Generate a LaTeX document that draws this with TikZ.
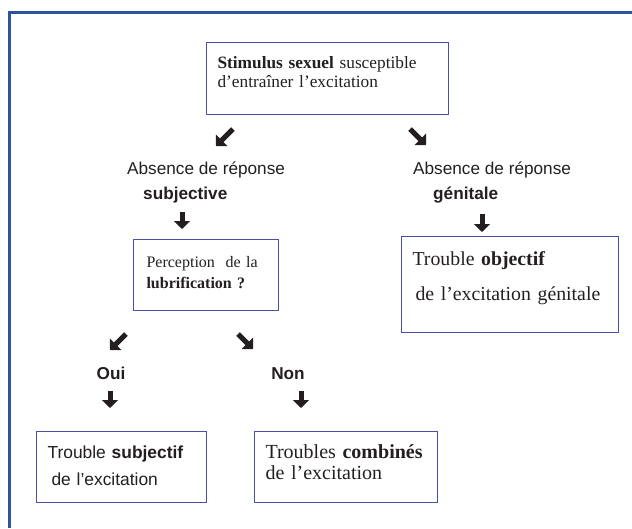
\documentclass[tikz,border=0pt]{standalone}
\usepackage{fontspec}
\setmainfont{Liberation Serif}
\setsansfont{Liberation Sans}
\usetikzlibrary{arrows.meta,positioning}
\definecolor{cframe}{HTML}{2C55A0}
\definecolor{cbox}{HTML}{4A4FA8}
\definecolor{cink}{HTML}{231F20}

\begin{document}
\begin{tikzpicture}[x=1pt,y=-1pt,
  box/.style={draw=cbox,line width=1.1pt,anchor=north west,align=left,inner ysep=0pt,inner xsep=11pt,text=cink},
  lbl/.style={font=\sffamily\fontsize{17.2}{20}\selectfont,text=cink,inner sep=0pt},
  arr/.style={-{Triangle[length=8pt,width=16pt]},line width=5pt,draw=cink}]
  \useasboundingbox (0,0) rectangle (632,528);
  \draw[cframe,line width=3pt] (632,12) -- (9,12) -- (9,528);
  \node[box,text width=220pt,text height=26pt,text depth=46pt,font=\fontsize{17.3}{18.5}\selectfont] (stim) at (206,42)
      {\textbf{Stimulus sexuel} susceptible\\d’entraîner l’excitation};
  \node[box,inner xsep=13pt,text width=119pt,text height=28pt,text depth=43pt,font=\fontsize{16}{21}\selectfont] (perc) at (133,239)
      {Perception~ de la\\\textbf{lubrification ?}};
  \node[box,text width=195pt,text height=29pt,text depth=67pt,font=\fontsize{19.8}{35}\selectfont] (obj) at (401,236)
      {Trouble \textbf{objectif}\\\hspace{3pt}de l’excitation génitale};
  \node[box,text width=148pt,text height=27pt,text depth=44pt,font=\sffamily\fontsize{17.4}{27}\selectfont] (subj) at (36,431)
      {Trouble \textbf{subjectif}\\\hspace{4pt}de l’excitation};
  \node[box,text width=161pt,text height=27pt,text depth=44pt,font=\fontsize{20}{21}\selectfont] (comb) at (254,431)
      {Troubles \textbf{combinés}\\de l’excitation};
  \node[lbl,anchor=base west] (absL) at (127,174) {Absence de réponse};
  \node[lbl,anchor=base west] (subjL) at (143,199) {\textbf{subjective}};
  \node[lbl,anchor=base west] (absR) at (413,174) {Absence de réponse};
  \node[lbl,anchor=base west] (genR) at (433,199) {\textbf{génitale}};
  \node[lbl,anchor=base] (oui) at (111,379) {\textbf{Oui}};
  \node[lbl,anchor=base] (non) at (288,379) {\textbf{Non}};
  \coordinate (l1) at (233,129); \coordinate (l2) at (216,146);
  \coordinate (r1) at (410,129); \coordinate (r2) at (426,145);
  \coordinate (d1) at (182,212); \coordinate (d2) at (182,229);
  \coordinate (e1) at (482,214); \coordinate (e2) at (482,232);
  \coordinate (o1) at (126,334); \coordinate (o2) at (110,350);
  \coordinate (n1) at (238,334); \coordinate (n2) at (253,349);
  \coordinate (p1) at (110,391); \coordinate (p2) at (110,408);
  \coordinate (q1) at (301,391); \coordinate (q2) at (301,408);
  \draw[arr] (l1) -- (l2);
  \draw[arr] (r1) -- (r2);
  \draw[arr] (d1) -- (d2);
  \draw[arr] (e1) -- (e2);
  \draw[arr] (o1) -- (o2);
  \draw[arr] (n1) -- (n2);
  \draw[arr] (p1) -- (p2);
  \draw[arr] (q1) -- (q2);
\end{tikzpicture}
\end{document}
